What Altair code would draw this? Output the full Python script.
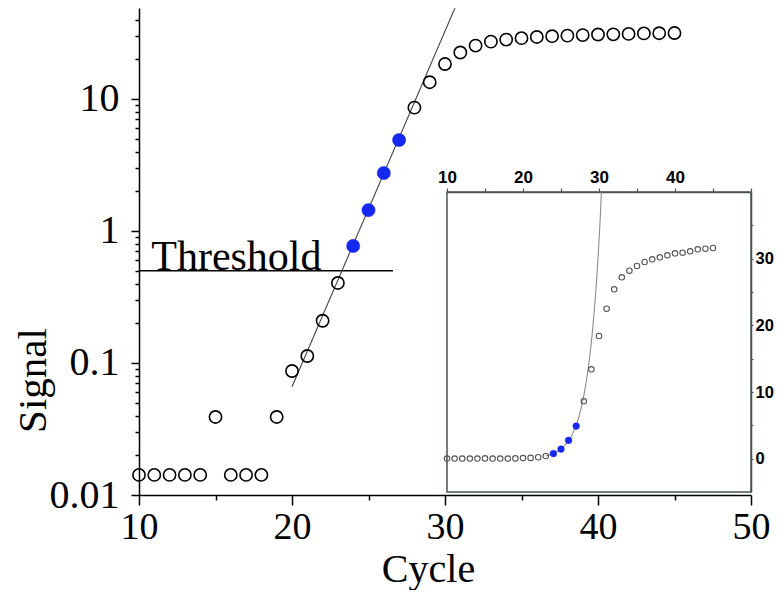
import altair as alt
import pandas as pd
import numpy as np

# ---------------- data ----------------
cycles = list(range(10, 46))
signal = [0.0142, 0.0142, 0.0142, 0.0142, 0.0142, 0.039, 0.0142, 0.0142, 0.0142, 0.039,
          0.087, 0.113, 0.209, 0.404, 0.77, 1.44, 2.75, 4.89, 8.6, 13.4,
          18.4, 22.5, 25.4, 27.2, 28.2, 28.9, 29.5, 29.9, 30.2, 30.5,
          30.8, 30.9, 31.1, 31.4, 31.5, 31.6]
blue_cycles = [24, 25, 26, 27]

# exponential fit (log-linear): log10(signal) = FIT_A + FIT_B * (cycle - FIT_X0)
FIT_A = -1.18
FIT_B = 0.2694
FIT_X0 = 20.0
FIT_X1 = 30.65
INSET_FIT_START = 23.0

threshold_value = 0.5
threshold_start = 10
threshold_end = 26.6
threshold_label = "Threshold"
threshold_label_x = 10.8

main_x_domain = [10, 50]
main_y_domain = [0.01, 48.9]
inset_x_domain = [10, 50]
inset_y_domain = [-5, 40]

main_x_ticks = [10, 15, 20, 25, 30, 35, 40, 45, 50]
main_y_ticks = [round(m * 10 ** e, 4) for e in (-2, -1, 0) for m in range(1, 10)] + [10, 20, 30, 40]
inset_x_ticks = [10, 15, 20, 25, 30, 35, 40, 45, 50]
inset_y_ticks = [0, 5, 10, 15, 20, 25, 30, 35]

# ---------------- frames ----------------
df = pd.DataFrame({"cycle": cycles, "signal": signal})
df["kind"] = np.where(df["cycle"].isin(blue_cycles), "fit", "other")
open_df = df[df["kind"] == "other"]
blue_df = df[df["kind"] == "fit"]

fit_x = np.array([FIT_X0, FIT_X1])
fit_df = pd.DataFrame({"cycle": fit_x, "signal": 10 ** (FIT_A + FIT_B * (fit_x - FIT_X0))})

inset_end = FIT_X0 + (np.log10(inset_y_domain[1]) - FIT_A) / FIT_B
ix = np.linspace(INSET_FIT_START, inset_end, 80)
inset_fit_df = pd.DataFrame({"cycle": ix, "signal": 10 ** (FIT_A + FIT_B * (ix - FIT_X0))})

thr_df = pd.DataFrame({"cycle": [threshold_start], "cycle_end": [threshold_end],
                       "signal": [threshold_value]})
thr_text_df = pd.DataFrame({"cycle": [threshold_label_x], "signal": [threshold_value],
                            "label": [threshold_label]})
frame_df = pd.DataFrame({"cycle": [inset_x_domain[0]], "cycle2": [inset_x_domain[1]],
                         "signal": [inset_y_domain[0]], "signal2": [inset_y_domain[1]]})

SERIF = "Liberation Serif"
SANS = "Liberation Sans"
BLUE = "#1428f0"
INSET_AXIS = "#4a5656"

W, H = 612, 487
INSET_LEFT, INSET_TOP, INSET_BOTTOM = 308, 184, 484

major_log = "abs(log(datum.value)/LN10 - round(log(datum.value)/LN10)) < 0.001"

x_main = alt.X(
    "cycle:Q",
    scale=alt.Scale(domain=main_x_domain, nice=False, zero=False),
    axis=alt.Axis(
        values=main_x_ticks,
        labelExpr="datum.value % 10 === 0 ? format(datum.value, 'd') : ''",
        tickSize={"condition": {"test": "datum.value % 10 === 0", "value": 10}, "value": 5},
        tickColor="black", tickWidth=1.5, domainColor="black", domainWidth=1.5,
        labelFont=SERIF, labelFontSize=38, labelColor="black", labelPadding=3,
        labelFlush=False, labelOverlap=False, grid=False,
        title="Cycle", titleFont=SERIF, titleFontSize=40, titleFontWeight="normal",
        titleColor="black", titleX=289, titleY=86.5, titleBaseline="alphabetic",
        titleAlign="center", titleAnchor="start",
    ),
)
y_main = alt.Y(
    "signal:Q",
    scale=alt.Scale(type="log", domain=main_y_domain, nice=False),
    axis=alt.Axis(
        values=main_y_ticks,
        labelExpr=major_log + " ? format(datum.value, '~g') : ''",
        tickSize={"condition": {"test": major_log, "value": 8}, "value": 4},
        tickColor="black", tickWidth=1.5, domainColor="black", domainWidth=1.5,
        labelFont=SERIF, labelFontSize=40, labelColor="black", labelPadding=12,
        labelFlush=False, labelOverlap=False, grid=False,
        title="Signal", titleFont=SERIF, titleFontSize=41, titleFontWeight="normal",
        titleColor="black", titleAngle=270, titleX=-94, titleY=372,
        titleBaseline="alphabetic", titleAlign="center", titleAnchor="start",
    ),
)

main_open = alt.Chart(open_df).mark_point(
    shape="circle", filled=False, size=150, stroke="black", strokeWidth=1.6, opacity=1
).encode(x=x_main, y=y_main)
main_blue = alt.Chart(blue_df).mark_point(
    shape="circle", filled=True, size=175, fill=BLUE, stroke=BLUE, strokeWidth=0.5, opacity=1
).encode(x=x_main, y=y_main)
main_fit = alt.Chart(fit_df).mark_line(color="#444444", strokeWidth=1.1).encode(x=x_main, y=y_main)
thr_rule = alt.Chart(thr_df).mark_rule(color="black", strokeWidth=1.6).encode(
    x=x_main, x2="cycle_end:Q", y=y_main)
thr_text = alt.Chart(thr_text_df).mark_text(
    font=SERIF, fontSize=42, align="left", baseline="alphabetic", dy=-1, color="black"
).encode(x=x_main, y=y_main, text="label:N")

main = alt.layer(thr_rule, thr_text, main_fit, main_open, main_blue)

x_in = alt.X(
    "cycle:Q",
    scale=alt.Scale(domain=inset_x_domain, range=[INSET_LEFT, W], nice=False, zero=False),
    axis=alt.Axis(
        orient="top", offset=-INSET_TOP, values=inset_x_ticks,
        labelExpr="(datum.value % 10 === 0 && datum.value < 50) ? format(datum.value, 'd') : ''",
        tickSize=4, tickColor=INSET_AXIS, tickWidth=1.2,
        domainColor=INSET_AXIS, domainWidth=1.5,
        labelFont=SANS, labelFontSize=17, labelFontWeight="bold", labelColor="black",
        labelPadding=2, labelFlush=False, labelOverlap=False, grid=False, title=None,
    ),
)
y_in = alt.Y(
    "signal:Q",
    scale=alt.Scale(domain=inset_y_domain, range=[INSET_BOTTOM, INSET_TOP], nice=False, zero=False),
    axis=alt.Axis(
        orient="right", values=inset_y_ticks,
        labelExpr="datum.value % 10 === 0 ? format(datum.value, 'd') : ''",
        tickSize=2, tickColor=INSET_AXIS, tickWidth=1.2,
        domainColor=INSET_AXIS, domainWidth=1.5,
        labelFont=SANS, labelFontSize=16.5, labelFontWeight="bold", labelColor="black",
        labelPadding=2, labelFlush=False, labelOverlap=False, grid=False, title=None,
    ),
)

inset_frame = alt.Chart(frame_df).mark_rect(
    filled=False, stroke=INSET_AXIS, strokeWidth=1.5, fill=None
).encode(x=x_in, x2="cycle2:Q", y=y_in, y2="signal2:Q")
inset_fit = alt.Chart(inset_fit_df).mark_line(color="#8c8c8c", strokeWidth=1.1).encode(x=x_in, y=y_in)
inset_open = alt.Chart(open_df).mark_point(
    shape="circle", filled=False, size=30, stroke="#555555", strokeWidth=1.1, opacity=1
).encode(x=x_in, y=y_in)
inset_blue = alt.Chart(blue_df).mark_point(
    shape="circle", filled=True, size=45, fill=BLUE, stroke=BLUE, strokeWidth=0.5, opacity=1
).encode(x=x_in, y=y_in)

inset = alt.layer(inset_frame, inset_fit, inset_open, inset_blue)

chart = alt.layer(main, inset).resolve_scale(x="independent", y="independent").properties(
    width=W, height=H,
    autosize=alt.AutoSizeParams(type="none"),
    padding={"left": 131, "top": 0, "right": 24, "bottom": 95},
    background="white",
).configure_view(stroke=None)

chart.save("out.html", embed_options={"renderer": "svg", "actions": False})
